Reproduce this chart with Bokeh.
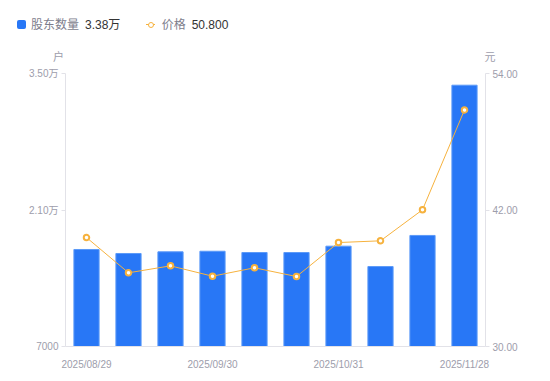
from bokeh.plotting import figure
from bokeh.models import Range1d, LinearAxis, FixedTicker, ColumnDataSource, Div
from bokeh.layouts import column
from bokeh.embed import file_html
from bokeh.resources import INLINE

# ---- data ----
dates = ["2025/08/29", "2025/09/10", "2025/09/19", "2025/09/30", "2025/10/10",
         "2025/10/20", "2025/10/31", "2025/11/10", "2025/11/20", "2025/11/28"]
holders = [16950, 16540, 16710, 16770, 16640, 16640, 17290, 15200, 18390, 33800]
price = [39.58, 36.48, 37.09, 36.18, 36.92, 36.15, 39.14, 39.29, 42.02, 50.80]
shown_dates = [0, 3, 6, 9]
left_ticks = [7000, 21000, 35000]
left_tick_labels = ["7000", "2.10万", "3.50万"]
right_ticks = [30, 42, 54]
right_tick_labels = ["30.00", "42.00", "54.00"]
series_names = ["股东数量", "价格"]
units = ["户", "元"]

FONT = "Liberation Sans, 'Noto Sans CJK SC'"
BLUE = "#2877f6"
ORANGE = "#f6b23e"
GRAY = "#9d9dab"
AXIS = "#e2e2e8"

src = ColumnDataSource(dict(x=list(range(len(dates))), holders=holders, price=price))

p = figure(width=550, height=316, x_range=Range1d(-0.5, len(dates) - 0.5),
           y_range=Range1d(left_ticks[0], left_ticks[-1]), output_backend="svg",
           toolbar_location=None, min_border_top=8, min_border_bottom=35,
           min_border_left=65, min_border_right=65)
p.extra_y_ranges = {"price": Range1d(right_ticks[0], right_ticks[-1])}
p.grid.visible = False
p.outline_line_color = None

p.vbar(x="x", top="holders", bottom=left_ticks[0], width=0.6, source=src,
       fill_color=BLUE, line_color="#5c9af8", line_width=1)
p.line(x="x", y="price", source=src, y_range_name="price",
       line_color=ORANGE, line_width=1)
p.scatter(x="x", y="price", source=src, y_range_name="price", size=5.5,
          marker="circle", line_color=ORANGE, line_width=2, fill_color="white")

# left axis
la = p.yaxis[0]
la.ticker = FixedTicker(ticks=left_ticks)
la.major_label_overrides = dict(zip(left_ticks, left_tick_labels))

# right axis
ra = LinearAxis(y_range_name="price", ticker=FixedTicker(ticks=right_ticks),
                major_label_overrides=dict(zip(right_ticks, right_tick_labels)))
p.add_layout(ra, "right")

for ax in (la, ra):
    ax.axis_line_color = AXIS
    ax.major_tick_line_color = AXIS
    ax.major_tick_out = 4
    ax.major_tick_in = 0
    ax.minor_tick_line_color = None
    ax.major_label_standoff = 3
    ax.major_label_text_font = FONT
    ax.major_label_text_font_size = "10px"
    ax.major_label_text_color = GRAY

# bottom axis
xa = p.xaxis[0]
xa.ticker = FixedTicker(ticks=shown_dates)
xa.major_label_overrides = {i: dates[i] for i in shown_dates}
xa.axis_line_color = AXIS
xa.major_tick_line_color = None
xa.minor_tick_line_color = None
xa.major_label_standoff = 6
xa.major_label_text_font = FONT
xa.major_label_text_font_size = "10px"
xa.major_label_text_color = GRAY

# ---- header: legend and unit labels ----
CSSFONT = "font-family:'Liberation Sans','Noto Sans CJK SC',sans-serif;"

def span(left, top, text, color, size=12, extra=""):
    return (f'<span style="position:absolute;left:{left}px;top:{top}px;'
            f'font-size:{size}px;line-height:16px;color:{color};white-space:nowrap;'
            f'{CSSFONT}{extra}">{text}</span>')

def shape(left, top, w, h, style):
    return (f'<div style="position:absolute;left:{left}px;top:{top}px;'
            f'width:{w}px;height:{h}px;box-sizing:border-box;{style}"></div>')

LY = 24.7
html = '<div style="position:relative;width:550px;height:65px;">'
html += shape(16.7, LY - 4.6, 9.2, 9.2, f"background:{BLUE};border-radius:2px;")
html += span(31, LY - 8, series_names[0], "#7d7d8c")
html += span(85, LY - 8, f"{holders[-1]/10000:.2f}万", "#333333")
html += shape(146, LY - 0.8, 9.4, 1.6, f"background:{ORANGE};")
html += shape(147.5, LY - 3.2, 6.4, 6.4,
              f"background:white;border:1.8px solid {ORANGE};border-radius:50%;")
html += span(161.7, LY - 8, series_names[1], "#7d7d8c")
html += span(191.7, LY - 8, f"{price[-1]:.3f}", "#333333")
html += span(52.5, 57 - 8, units[0], GRAY, 11, "width:12px;text-align:center;")
html += span(484, 57 - 8, units[1], GRAY, 11, "width:12px;text-align:center;")
html += '</div>'

header = Div(text=html, width=550, height=65, styles={"margin": "0", "padding": "0"})

layout = column(header, p, spacing=0)
open("out.html", "w").write(file_html(layout, INLINE))
